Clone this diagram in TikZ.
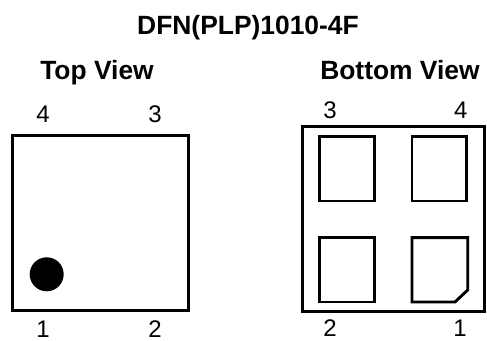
\documentclass[tikz,border=0pt]{standalone}
\usepackage{fontspec}
\setmainfont{Liberation Sans}
\tikzset{
	pin/.style={anchor=base, inner sep=0pt, font=\fontsize{24}{24}\selectfont},
	heading/.style={anchor=base, inner sep=0pt, font=\fontsize{26.4}{26.4}\selectfont\bfseries},
	outline/.style={line width=3pt, line join=miter},
	pad/.style={line width=2.9pt, line join=miter}
}

\begin{document}
\begin{tikzpicture}[x=1pt, y=1pt]
	\useasboundingbox (0, 0) rectangle (487, 340);

	\draw (248, 305.5) node[heading] (title)    {DFN(PLP)1010-4F};
	\draw (97, 260.5) node[heading] (topview)    {Top View};
	\draw (400, 260.5) node[heading] (bottomview)    {Bottom View};

	% top view
	\draw[outline] (12, 204.5) rectangle (188, 29.5);
	\fill (46.7, 65.7) circle (17);
	\draw (43, 217.5) node[pin] (t4)    {4};
	\draw (155, 217.5) node[pin] (t3)    {3};
	\draw (43, 2.5) node[pin] (t1)    {1};
	\draw (155, 2.5) node[pin] (t2)    {2};

	% bottom view
	\draw[outline] (302.3, 213) rectangle (484.3, 28.3);
	\draw[pad] (319.7, 203.3) rectangle (374.3, 139);
	\draw[pad] (412, 203.3) rectangle (466.7, 139);
	\draw[pad] (319.7, 102.3) rectangle (374.3, 38);
	\draw[pad] (412, 102.3) -- (467.7, 102.3) -- (467.7, 50) -- (455, 38) -- (412, 38) -- cycle;
	\draw (330, 221.5) node[pin] (b3)    {3};
	\draw (460.7, 221.5) node[pin] (b4)    {4};
	\draw (330, 4) node[pin] (b2)    {2};
	\draw (460, 4) node[pin] (b1)    {1};
\end{tikzpicture}
\end{document}
